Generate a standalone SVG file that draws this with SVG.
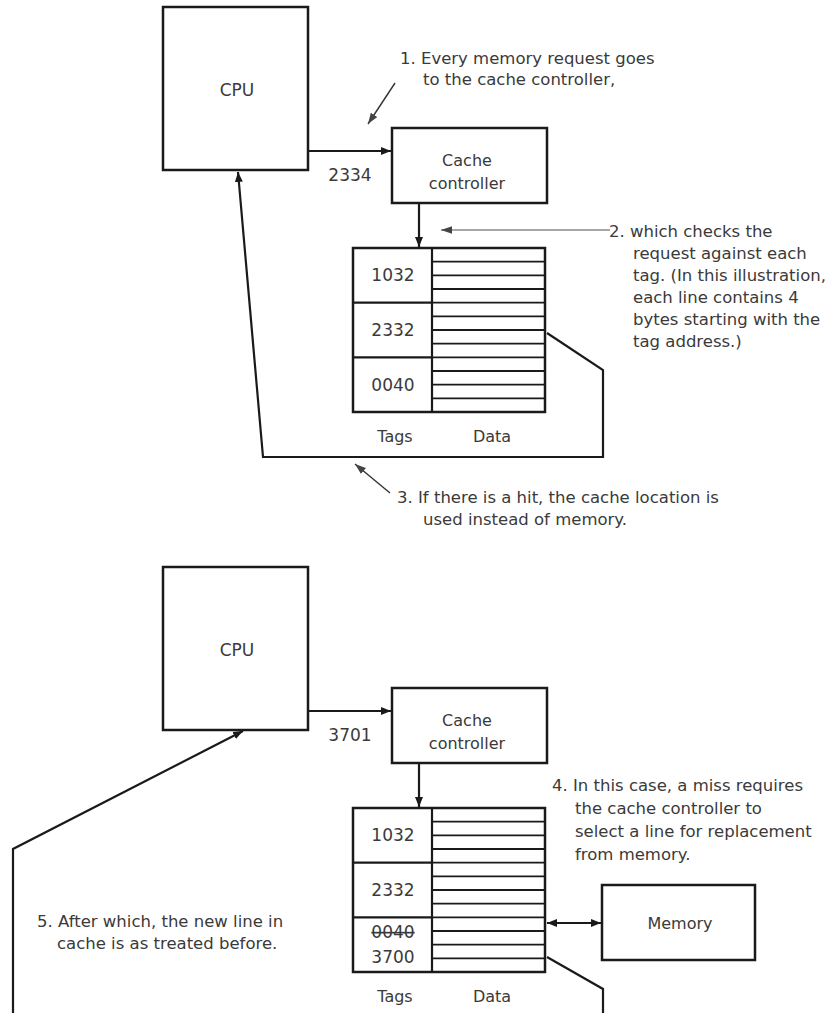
<svg xmlns="http://www.w3.org/2000/svg" width="832" height="1013" viewBox="0 0 832 1013">
<style>
.box{fill:#fff;stroke:#1a1a1a;stroke-width:2.5}
.ln{fill:none;stroke:#1a1a1a;stroke-width:2.2}
.dl{stroke:#1a1a1a;stroke-width:1.8}
.thin{fill:none;stroke:#333;stroke-width:1.4}
.grey{fill:none;stroke:#888;stroke-width:1.6}
text{font-family:"DejaVu Sans","Liberation Sans",sans-serif;fill:#3a3a3a}
.lbl{font-size:16px;text-anchor:middle}
.num{font-size:17px;text-anchor:middle}
.ann{font-size:16.5px}
</style>
<defs>
<marker id="ah" viewBox="0 0 10 10" refX="10" refY="5" markerWidth="10" markerHeight="10" markerUnits="userSpaceOnUse" orient="auto-start-reverse"><path d="M0,1 L10,5 L0,9 z" fill="#1a1a1a"/></marker>
<marker id="ahg" viewBox="0 0 10 10" refX="10" refY="5" markerWidth="11" markerHeight="11" markerUnits="userSpaceOnUse" orient="auto"><path d="M0,1.5 L10,5 L0,8.5 z" fill="#444"/></marker>
<g id="rows">
<line class="dl" x1="432" y1="13.7" x2="545" y2="13.7"/>
<line class="dl" x1="432" y1="27.3" x2="545" y2="27.3"/>
<line class="dl" x1="432" y1="41" x2="545" y2="41"/>
<line class="dl" x1="432" y1="54.7" x2="545" y2="54.7"/>
<line class="dl" x1="432" y1="68.3" x2="545" y2="68.3"/>
<line class="dl" x1="432" y1="82" x2="545" y2="82"/>
<line class="dl" x1="432" y1="95.7" x2="545" y2="95.7"/>
<line class="dl" x1="432" y1="109.3" x2="545" y2="109.3"/>
<line class="dl" x1="432" y1="123" x2="545" y2="123"/>
<line class="dl" x1="432" y1="136.7" x2="545" y2="136.7"/>
<line class="dl" x1="432" y1="150.3" x2="545" y2="150.3"/>
</g>
</defs>

<!-- TOP SCENARIO -->
<g id="cpu1"><rect class="box" x="163" y="7" width="145" height="163"/><text class="num" x="237" y="96">CPU</text></g>
<g id="cc1"><rect class="box" x="392" y="128" width="155" height="75"/><text class="lbl" x="467" y="166">Cache</text><text class="lbl" x="467" y="189">controller</text></g>
<g id="cache1">
<rect class="box" x="353" y="248" width="192" height="164"/>
<line class="ln" x1="432" y1="248" x2="432" y2="412"/>
<line class="ln" x1="353" y1="302.7" x2="432" y2="302.7"/>
<line class="ln" x1="353" y1="357.3" x2="432" y2="357.3"/>
<use href="#rows" x="0" y="248"/>
<text class="num" x="393" y="281">1032</text>
<text class="num" x="393" y="336">2332</text>
<text class="num" x="393" y="391">0040</text>
<text class="lbl" x="395" y="442">Tags</text>
<text class="lbl" x="492" y="442">Data</text>
</g>
<g id="labels1">
<text class="num" x="350" y="181">2334</text>
<text class="ann" x="400" y="64">1. Every memory request goes</text>
<text class="ann" x="423" y="85">to the cache controller,</text>
<text class="ann" x="609" y="237">2. which checks the</text>
<text class="ann" x="633" y="259">request against each</text>
<text class="ann" x="633" y="281">tag. (In this illustration,</text>
<text class="ann" x="633" y="303">each line contains 4</text>
<text class="ann" x="633" y="325">bytes starting with the</text>
<text class="ann" x="633" y="347">tag address.)</text>
<text class="ann" x="397" y="503">3. If there is a hit, the cache location is</text>
<text class="ann" x="423" y="525">used instead of memory.</text>
</g>

<!-- BOTTOM SCENARIO -->
<g id="cpu2"><rect class="box" x="163" y="567" width="145" height="163"/><text class="num" x="237" y="656">CPU</text></g>
<g id="cc2"><rect class="box" x="392" y="688" width="155" height="75"/><text class="lbl" x="467" y="726">Cache</text><text class="lbl" x="467" y="749">controller</text></g>
<g id="cache2">
<rect class="box" x="353" y="808" width="192" height="164"/>
<line class="ln" x1="432" y1="808" x2="432" y2="972"/>
<line class="ln" x1="353" y1="862.7" x2="432" y2="862.7"/>
<line class="ln" x1="353" y1="917.3" x2="432" y2="917.3"/>
<use href="#rows" x="0" y="808"/>
<text class="num" x="393" y="841">1032</text>
<text class="num" x="393" y="896">2332</text>
<text class="num" x="393" y="938" text-decoration="line-through">0040</text>
<text class="num" x="393" y="963">3700</text>
<text class="lbl" x="395" y="1002">Tags</text>
<text class="lbl" x="492" y="1002">Data</text>
</g>
<g id="memory"><rect class="box" x="602" y="885" width="153" height="75"/><text class="lbl" x="680" y="929">Memory</text></g>
<g id="labels2">
<text class="num" x="350" y="741">3701</text>
<text class="ann" x="552" y="791">4. In this case, a miss requires</text>
<text class="ann" x="575" y="814">the cache controller to</text>
<text class="ann" x="575" y="837">select a line for replacement</text>
<text class="ann" x="575" y="860">from memory.</text>
<text class="ann" x="37" y="927">5. After which, the new line in</text>
<text class="ann" x="57" y="949">cache is as treated before.</text>
</g>

<g id="connectors">
<line class="ln" x1="308" y1="151" x2="391" y2="151" marker-end="url(#ah)"/>
<line class="ln" x1="419" y1="203" x2="419" y2="247" marker-end="url(#ah)"/>
<path class="ln" d="M547 333 L603 370 L603 457 L263 457 L238 172" marker-end="url(#ah)"/>
<line class="thin" x1="395" y1="83" x2="368" y2="124" marker-end="url(#ahg)"/>
<line class="grey" x1="610" y1="230" x2="441" y2="230" marker-end="url(#ahg)"/>
<line class="thin" x1="390" y1="493" x2="355" y2="464" marker-end="url(#ahg)"/>

<line class="ln" x1="308" y1="711" x2="391" y2="711" marker-end="url(#ah)"/>
<line class="ln" x1="419" y1="763" x2="419" y2="807" marker-end="url(#ah)"/>
<line class="ln" x1="547" y1="923" x2="601" y2="923" marker-start="url(#ah)" marker-end="url(#ah)"/>
<path class="ln" d="M547 957 L603 989 L603 1013"/>
<path class="ln" d="M13 1013 L13 849 L243 731" marker-end="url(#ah)"/>
</g>
</svg>
